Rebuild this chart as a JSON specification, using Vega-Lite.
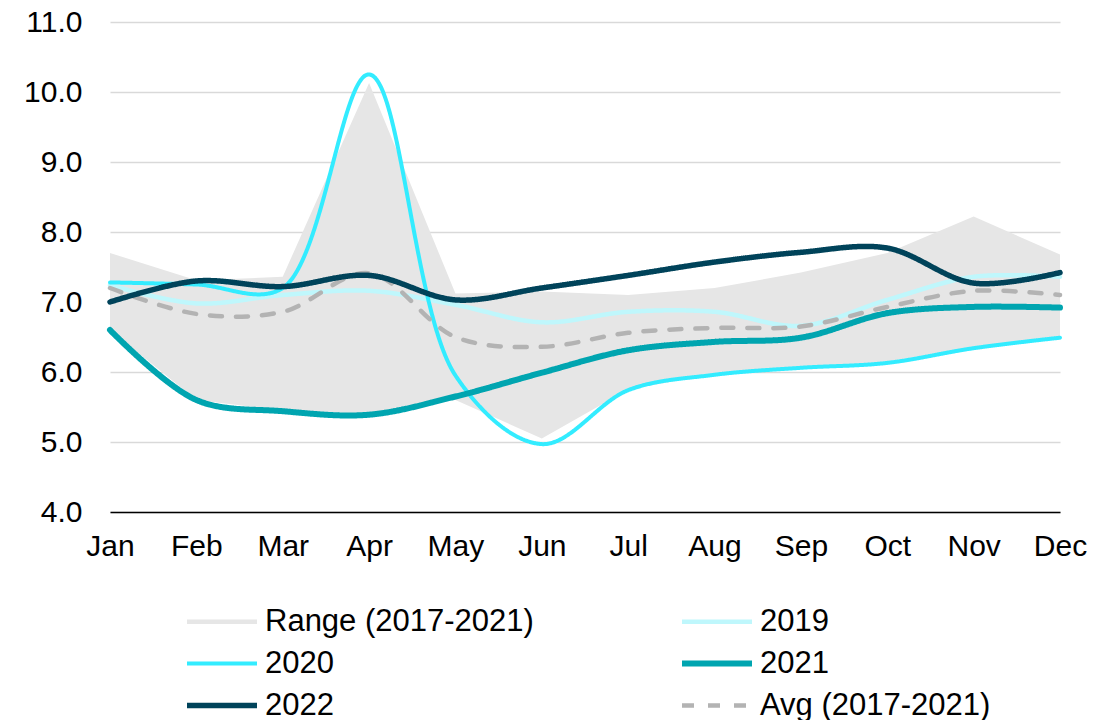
{
  "$schema": "https://vega.github.io/schema/vega-lite/v6.json",
  "width": 950,
  "height": 490,
  "autosize": "none",
  "padding": {"left": 110, "top": 22, "right": 56, "bottom": 208},
  "background": "white",
  "config": {
    "font": "Liberation Sans",
    "view": {"stroke": null},
    "axis": {"labelFont": "Liberation Sans", "labelFontSize": 30, "labelColor": "#000000"}
  },
  "datasets": {
    "rng": [
      {"m": "Jan", "s": "Range (2017-2021)", "lo": 6.6, "hi": 7.7},
      {"m": "Feb", "s": "Range (2017-2021)", "lo": 5.6, "hi": 7.31},
      {"m": "Mar", "s": "Range (2017-2021)", "lo": 5.45, "hi": 7.36},
      {"m": "Apr", "s": "Range (2017-2021)", "lo": 5.4, "hi": 10.13},
      {"m": "May", "s": "Range (2017-2021)", "lo": 5.6, "hi": 7.12},
      {"m": "Jun", "s": "Range (2017-2021)", "lo": 5.05, "hi": 7.15},
      {"m": "Jul", "s": "Range (2017-2021)", "lo": 5.75, "hi": 7.1},
      {"m": "Aug", "s": "Range (2017-2021)", "lo": 5.97, "hi": 7.2},
      {"m": "Sep", "s": "Range (2017-2021)", "lo": 6.05, "hi": 7.42},
      {"m": "Oct", "s": "Range (2017-2021)", "lo": 6.15, "hi": 7.7},
      {"m": "Nov", "s": "Range (2017-2021)", "lo": 6.35, "hi": 8.22},
      {"m": "Dec", "s": "Range (2017-2021)", "lo": 6.5, "hi": 7.68}
    ],
    "lns": [
      {"m": "Jan", "s": "2019", "v": 7.24},
      {"m": "Feb", "s": "2019", "v": 6.98},
      {"m": "Mar", "s": "2019", "v": 7.1},
      {"m": "Apr", "s": "2019", "v": 7.16},
      {"m": "May", "s": "2019", "v": 6.96},
      {"m": "Jun", "s": "2019", "v": 6.71},
      {"m": "Jul", "s": "2019", "v": 6.86},
      {"m": "Aug", "s": "2019", "v": 6.86},
      {"m": "Sep", "s": "2019", "v": 6.66},
      {"m": "Oct", "s": "2019", "v": 7.03},
      {"m": "Nov", "s": "2019", "v": 7.36},
      {"m": "Dec", "s": "2019", "v": 7.36},
      {"m": "Jan", "s": "2020", "v": 7.28},
      {"m": "Feb", "s": "2020", "v": 7.25},
      {"m": "Mar", "s": "2020", "v": 7.2},
      {"m": "Apr", "s": "2020", "v": 10.25},
      {"m": "May", "s": "2020", "v": 5.95},
      {"m": "Jun", "s": "2020", "v": 4.97},
      {"m": "Jul", "s": "2020", "v": 5.74},
      {"m": "Aug", "s": "2020", "v": 5.96},
      {"m": "Sep", "s": "2020", "v": 6.06},
      {"m": "Oct", "s": "2020", "v": 6.13},
      {"m": "Nov", "s": "2020", "v": 6.34},
      {"m": "Dec", "s": "2020", "v": 6.49},
      {"m": "Jan", "s": "2021", "v": 6.6},
      {"m": "Feb", "s": "2021", "v": 5.6},
      {"m": "Mar", "s": "2021", "v": 5.44},
      {"m": "Apr", "s": "2021", "v": 5.39},
      {"m": "May", "s": "2021", "v": 5.65},
      {"m": "Jun", "s": "2021", "v": 5.99},
      {"m": "Jul", "s": "2021", "v": 6.31},
      {"m": "Aug", "s": "2021", "v": 6.43},
      {"m": "Sep", "s": "2021", "v": 6.49},
      {"m": "Oct", "s": "2021", "v": 6.84},
      {"m": "Nov", "s": "2021", "v": 6.93},
      {"m": "Dec", "s": "2021", "v": 6.92},
      {"m": "Jan", "s": "Avg (2017-2021)", "v": 7.2},
      {"m": "Feb", "s": "Avg (2017-2021)", "v": 6.83},
      {"m": "Mar", "s": "Avg (2017-2021)", "v": 6.86},
      {"m": "Apr", "s": "Avg (2017-2021)", "v": 7.41},
      {"m": "May", "s": "Avg (2017-2021)", "v": 6.5},
      {"m": "Jun", "s": "Avg (2017-2021)", "v": 6.36},
      {"m": "Jul", "s": "Avg (2017-2021)", "v": 6.56},
      {"m": "Aug", "s": "Avg (2017-2021)", "v": 6.63},
      {"m": "Sep", "s": "Avg (2017-2021)", "v": 6.65},
      {"m": "Oct", "s": "Avg (2017-2021)", "v": 6.93},
      {"m": "Nov", "s": "Avg (2017-2021)", "v": 7.16},
      {"m": "Dec", "s": "Avg (2017-2021)", "v": 7.1},
      {"m": "Jan", "s": "2022", "v": 7.0},
      {"m": "Feb", "s": "2022", "v": 7.3},
      {"m": "Mar", "s": "2022", "v": 7.22},
      {"m": "Apr", "s": "2022", "v": 7.38},
      {"m": "May", "s": "2022", "v": 7.03},
      {"m": "Jun", "s": "2022", "v": 7.2},
      {"m": "Jul", "s": "2022", "v": 7.38},
      {"m": "Aug", "s": "2022", "v": 7.57},
      {"m": "Sep", "s": "2022", "v": 7.71},
      {"m": "Oct", "s": "2022", "v": 7.77},
      {"m": "Nov", "s": "2022", "v": 7.27},
      {"m": "Dec", "s": "2022", "v": 7.42}
    ]
  },
  "encoding": {
    "x": {
      "field": "m",
      "type": "ordinal",
      "title": null,
      "scale": {"type": "point", "padding": 0, "domain": ["Jan", "Feb", "Mar", "Apr", "May", "Jun", "Jul", "Aug", "Sep", "Oct", "Nov", "Dec"]},
      "axis": {"labelAngle": 0, "ticks": false, "domainColor": "#000000", "domainWidth": 1.5, "grid": false, "labelPadding": 19}
    },
    "color": {
      "field": "s",
      "type": "nominal",
      "scale": {
        "domain": ["Range (2017-2021)", "2019", "2020", "2021", "2022", "Avg (2017-2021)"],
        "range": ["#e6e6e6", "#bff7fc", "#33ecff", "#00a5b0", "#00435a", "#b3b3b3"]
      },
      "legend": {
        "title": null,
        "orient": "none",
        "legendX": 68.5,
        "legendY": 584,
        "direction": "horizontal",
        "columns": 2,
        "columnPadding": 135,
        "rowPadding": 10,
        "labelFont": "Liberation Sans",
        "labelFontSize": 31,
        "labelColor": "#000000",
        "labelLimit": 0,
        "labelOffset": 55.5,
        "symbolSize": 196,
        "symbolType": "M-1,0H9"
      }
    }
  },
  "layer": [
    {
      "data": {"name": "rng"},
      "mark": {"type": "area", "interpolate": "linear"},
      "encoding": {
        "y": {
          "field": "lo",
          "type": "quantitative",
          "title": null,
          "scale": {"domain": [4, 11], "nice": false, "zero": false},
          "axis": {"values": [4, 5, 6, 7, 8, 9, 10, 11], "format": ".1f", "domain": false, "ticks": false, "gridColor": "#d9d9d9", "gridWidth": 1.5, "labelPadding": 28}
        },
        "y2": {"field": "hi"}
      }
    },
    {
      "data": {"name": "lns"},
      "mark": {"type": "line", "interpolate": "catmull-rom", "strokeCap": "round"},
      "encoding": {
        "y": {"field": "v", "type": "quantitative"},
        "strokeWidth": {
          "field": "s",
          "type": "nominal",
          "scale": {
            "type": "ordinal",
            "domain": ["Range (2017-2021)", "2019", "2020", "2021", "2022", "Avg (2017-2021)"],
            "range": [4.5, 4.5, 4, 6, 5.5, 4.5]
          },
          "legend": {"title": null}
        },
        "strokeDash": {
          "field": "s",
          "type": "nominal",
          "scale": {
            "type": "ordinal",
            "domain": ["Range (2017-2021)", "2019", "2020", "2021", "2022", "Avg (2017-2021)"],
            "range": [[1, 0], [1, 0], [1, 0], [1, 0], [1, 0], [12, 14]]
          },
          "legend": {"title": null}
        }
      }
    }
  ]
}
